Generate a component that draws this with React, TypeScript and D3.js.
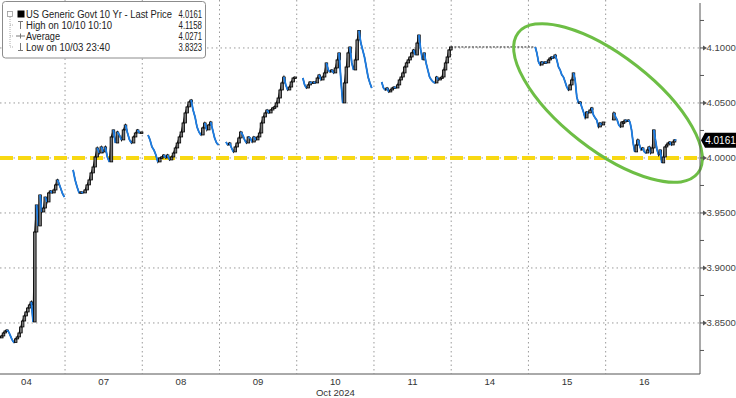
import React from "react";
import * as d3 from "d3";

// ---- data ----
const dayLabels = ["04", "07", "08", "09", "10", "11", "14", "15", "16"];
const yTicks = [3.85, 3.9, 3.95, 4.0, 4.05, 4.1];
const yMinorTicks = [3.825, 3.875, 3.925, 3.975, 4.025, 4.075, 4.125];

const oct04 = [3.8364, 3.8382, 3.8409, 3.8427, 3.8436, 3.8418, 3.8382, 3.8345, 3.8323, 3.8355, 3.8373, 3.8409, 3.8464, 3.8518, 3.8564, 3.86, 3.8636, 3.8664, 3.8691, 3.8509, 3.9327, 3.9573, 3.9382, 3.9664, 3.9509, 3.9545, 3.9645, 3.96, 3.9682, 3.97, 3.9682, 3.9709, 3.9755, 3.98, 3.9764, 3.9718, 3.9673, 3.9645];
const oct07 = [3.9891, 3.98, 3.9736, 3.9682, 3.9691, 3.9682, 3.9709, 3.9755, 3.98, 3.9864, 3.9918, 4.0009, 4.0091, 4.0045, 4.01, 4.0055, 4.01, 4.0009, 3.9964, 4.0191, 4.0255, 4.0136, 4.0236, 4.0209, 4.0164, 4.0255, 4.03, 4.0227, 4.0164, 4.0136, 4.0191, 4.0227, 4.0255, 4.0227, 4.0236];
const oct08 = [4.0209, 4.0164, 4.01, 4.0073, 4.0027, 3.9964, 4.0, 4.0009, 4.0027, 4.0, 4.0027, 3.9982, 4.0009, 4.0045, 4.0091, 4.0136, 4.0191, 4.0236, 4.0318, 4.0409, 4.0464, 4.0509, 4.0527, 4.0436, 4.0373, 4.0282, 4.0236, 4.0209, 4.0273, 4.0318, 4.0255, 4.03, 4.0327, 4.0255, 4.0182, 4.0136, 4.0118];
const oct09 = [4.0145, 4.0118, 4.0136, 4.0091, 4.0055, 4.01, 4.0136, 4.0182, 4.0236, 4.0209, 4.0164, 4.0136, 4.0191, 4.0182, 4.0145, 4.0191, 4.0164, 4.0191, 4.0227, 4.0318, 4.0373, 4.0409, 4.0436, 4.0409, 4.0436, 4.0455, 4.0464, 4.05, 4.0545, 4.0618, 4.0682, 4.0736, 4.0664, 4.0618, 4.0645, 4.0691, 4.0727, 4.0736];
const oct10 = [4.0727, 4.0664, 4.0636, 4.0664, 4.0691, 4.0682, 4.0691, 4.0682, 4.0727, 4.0755, 4.0709, 4.0736, 4.0773, 4.0864, 4.08, 4.0782, 4.08, 4.0773, 4.0818, 4.0891, 4.0955, 4.0709, 4.05, 4.0682, 4.0827, 4.0955, 4.1009, 4.0864, 4.08, 4.0891, 4.1073, 4.1158, 4.1045, 4.0982, 4.0918, 4.0827, 4.0736, 4.0682, 4.0636];
const oct11 = [4.0691, 4.0636, 4.0618, 4.0636, 4.06, 4.0618, 4.0636, 4.0645, 4.0636, 4.0664, 4.0709, 4.0736, 4.0773, 4.0827, 4.0864, 4.0891, 4.0918, 4.0955, 4.0982, 4.0936, 4.1045, 4.1118, 4.0982, 4.0891, 4.0955, 4.0864, 4.08, 4.0736, 4.0709, 4.0691, 4.0682, 4.0736, 4.0709, 4.0727, 4.0736, 4.08, 4.0864, 4.0918, 4.0982, 4.1009];
const oct14: number[] = [];
const oct15 = [4.1009, 4.0955, 4.0873, 4.0845, 4.0873, 4.0864, 4.0873, 4.0864, 4.0891, 4.0909, 4.0918, 4.0909, 4.0936, 4.0891, 4.0827, 4.08, 4.0755, 4.0736, 4.0691, 4.0645, 4.0618, 4.0664, 4.0709, 4.0773, 4.0709, 4.0555, 4.05, 4.0509, 4.0464, 4.0418, 4.0364, 4.0418, 4.0409, 4.0436, 4.0455, 4.0391, 4.0364, 4.0345, 4.0282, 4.0318, 4.03, 4.0327];
const oct16 = [4.0345, 4.0409, 4.0373, 4.0345, 4.03, 4.0282, 4.0327, 4.0327, 4.0345, 4.0336, 4.0345, 4.0327, 4.0255, 4.0136, 4.0055, 4.0118, 4.0164, 4.0118, 4.0073, 4.0091, 4.0055, 4.0045, 4.0073, 4.01, 4.0045, 4.0091, 4.0255, 4.0164, 4.0073, 4.0027, 4.0073, 3.9955, 4.0009, 4.01, 4.0118, 4.0136, 4.0145, 4.0118, 4.0145, 4.0164, 4.0161];

// trading session start / end, in hours of each day slot
const sessionStart = [3.8, 2.5, 1.8, 2.0, 1.9, 2.4, 0, 2.1, 2.1];
const sessionEnd = [23.8, 23.8, 23.7, 23.5, 23.3, 23.9, 0, 23.3, 21.9];
const days = [oct04, oct07, oct08, oct09, oct10, oct11, oct14, oct15, oct16];

const lastPrice = 4.0161;
const highValue = 4.1158;
const avgValue = 4.0271;
const lowValue = 3.8323;
const refLevel = 4.0;

const W = 736;
const H = 398;
const plotRight = 700;
const plotBottom = 374;

const FONT = "'Liberation Sans', Arial, sans-serif";

export default function App() {
  const x = d3.scaleLinear().domain([0, 9]).range([-12.2, 682.9]);
  const y = d3.scaleLinear().domain([3.8036, 4.1436]).range([plotBottom, 0]);

  type P = { t: number; v: number };
  const series: P[][] = days.map((vals, di) => {
    const n = vals.length;
    return vals.map((v, i) => {
      const h = sessionStart[di] + ((sessionEnd[di] - sessionStart[di]) * i) / Math.max(1, n - 1);
      return { t: di + h / 24, v };
    });
  });

  const line = d3
    .line<P>()
    .x((d) => x(d.t))
    .y((d) => y(d.v));

  const marks: React.ReactNode[] = [];
  series.forEach((pts, di) => {
    if (pts.length === 0) return;
    marks.push(
      <path key={`l${di}`} d={line(pts) || ""} fill="none" stroke="#111" strokeWidth={1.3} />
    );
    pts.forEach((p, i) => {
      if (i === 0) return;
      const prev = pts[i - 1];
      const cx = x(p.t);
      const y0 = y(prev.v);
      const y1 = y(p.v);
      if (p.v >= prev.v) {
        marks.push(
          <rect
            key={`c${di}-${i}`}
            x={cx - 1.3}
            y={Math.min(y0, y1)}
            width={2.6}
            height={Math.max(1.5, Math.abs(y1 - y0))}
            fill="#777"
            stroke="#000"
            strokeWidth={0.8}
          />
        );
      } else {
        marks.push(
          <line
            key={`c${di}-${i}`}
            x1={x(prev.t)}
            y1={y0}
            x2={cx}
            y2={y1}
            stroke="#1c7ee6"
            strokeWidth={1.8}
          />
        );
      }
    });
  });

  // holiday (Oct 14) connector
  const lastBefore = series[5][series[5].length - 1];
  const firstAfter = series[7][0];

  const legendRows: [string, number, number][] = [
    ["US Generic Govt 10 Yr - Last Price", lastPrice, 146],
    ["High on 10/10 10:10", highValue, 86],
    ["Average", avgValue, 34],
    ["Low on 10/03 23:40", lowValue, 84],
  ];

  return (
    <svg width={W} height={H} style={{ position: "absolute", left: 0, top: 0, background: "#fff" }}>
      <defs>
        <clipPath id="plot">
          <rect x={0} y={0} width={plotRight} height={plotBottom} />
        </clipPath>
      </defs>
      <rect x={0} y={0} width={W} height={H} fill="#fff" />

      {/* grid */}
      {yTicks.map((t) => (
        <line key={`g${t}`} x1={0} x2={plotRight} y1={y(t)} y2={y(t)} stroke="#9a9a9a" strokeWidth={1} strokeDasharray="1.5,3" />
      ))}
      {d3.range(1, 9).map((i) => (
        <line key={`v${i}`} x1={x(i)} x2={x(i)} y1={0} y2={plotBottom} stroke="#9a9a9a" strokeWidth={1} strokeDasharray="1.5,3" />
      ))}

      {/* reference level */}
      <line x1={0} x2={plotRight} y1={y(refLevel)} y2={y(refLevel)} stroke="#F8D812" strokeWidth={4} strokeDasharray="13,5" />

      <g clipPath="url(#plot)">
        <line
          x1={x(lastBefore.t)}
          y1={y(lastBefore.v)}
          x2={x(firstAfter.t)}
          y2={y(lastBefore.v)}
          stroke="#222"
          strokeWidth={1}
          strokeDasharray="2,1.5"
        />
        {marks}
      </g>

      {/* annotation ellipse */}
      <ellipse
        cx={608}
        cy={103}
        rx={114}
        ry={47}
        transform="rotate(38 608 103)"
        fill="none"
        stroke="#6DBE45"
        strokeWidth={3}
      />

      {/* frame */}
      <line x1={plotRight} x2={plotRight} y1={3} y2={plotBottom} stroke="#555" strokeWidth={1} />
      <line x1={0} x2={plotRight} y1={plotBottom} y2={plotBottom} stroke="#555" strokeWidth={1} />

      {/* right axis */}
      {yMinorTicks.map((t) => (
        <line key={`m${t}`} x1={plotRight} x2={plotRight + 4} y1={y(t)} y2={y(t)} stroke="#555" strokeWidth={1} />
      ))}
      {yTicks.map((t) => (
        <g key={`t${t}`}>
          <line x1={plotRight} x2={plotRight + 4} y1={y(t)} y2={y(t)} stroke="#555" strokeWidth={1} />
          <path d={`M${plotRight + 3},${y(t) - 2.5} L${plotRight + 7},${y(t)} L${plotRight + 3},${y(t) + 2.5} Z`} fill="#555" />
          <text x={plotRight + 6.5} y={y(t) + 3.5} fontSize={9.6} fontFamily={FONT} fill="#444">
            {t.toFixed(4)}
          </text>
        </g>
      ))}

      {/* last price tag */}
      <path
        d={`M${plotRight + 1},${y(lastPrice)} L${plotRight + 5},${y(lastPrice) - 7.5} L${W},${y(lastPrice) - 7.5} L${W},${y(lastPrice) + 7.5} L${plotRight + 5},${y(lastPrice) + 7.5} Z`}
        fill="#000"
      />
      <text x={plotRight + 20.5} y={y(lastPrice) + 3.8} fontSize={10} fontFamily={FONT} fill="#fff" textAnchor="middle">
        {lastPrice.toFixed(4)}
      </text>

      {/* x labels */}
      {dayLabels.map((d, i) => (
        <text key={d} x={x(i + 0.5)} y={385} fontSize={9.6} fontFamily={FONT} fill="#333" textAnchor="middle">
          {d}
        </text>
      ))}
      <text x={x(4.5)} y={396} fontSize={9.6} fontFamily={FONT} fill="#333" textAnchor="middle">
        Oct 2024
      </text>

      {/* legend */}
      <rect x={2.5} y={1.5} width={203} height={56.5} rx={3} fill="#fff" stroke="#8c8c8c" strokeWidth={1} />
      <rect x={7.5} y={11.5} width={5} height={5} fill="#fff" stroke="#999" strokeWidth={0.8} />
      <rect x={17.5} y={10.5} width={7} height={7} fill="#000" />
      <line x1={10} x2={10} y1={17} y2={47} stroke="#999" strokeWidth={0.8} strokeDasharray="1,1" />
      {[25, 36, 47].map((yy) => (
        <line key={yy} x1={10} x2={14} y1={yy} y2={yy} stroke="#999" strokeWidth={0.8} strokeDasharray="1,1" />
      ))}
      <path d="M18,21.5 H23 M20.5,21.5 V29" stroke="#777" strokeWidth={1} fill="none" />
      <path d="M16,36 H25 M20.5,33.5 V38.5" stroke="#777" strokeWidth={1} fill="none" />
      <path d="M18,50.5 H23 M20.5,43 V50.5" stroke="#777" strokeWidth={1} fill="none" />
      {legendRows.map(([label, val, len], i) => (
        <g key={label}>
          <text x={26} y={18 + i * 11} fontSize={10} fontFamily={FONT} fill="#222" textLength={len} lengthAdjust="spacingAndGlyphs">
            {label}
          </text>
          <text x={178.5} y={18 + i * 11} fontSize={10} fontFamily={FONT} fill="#222" textLength={23.5} lengthAdjust="spacingAndGlyphs">
            {val.toFixed(4)}
          </text>
        </g>
      ))}
    </svg>
  );
}
